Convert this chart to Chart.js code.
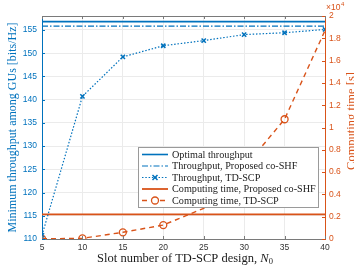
<!DOCTYPE html>
<html>
<head>
<meta charset="utf-8">
<script src="https://cdn.jsdelivr.net/npm/chart.js@4.4.1/dist/chart.umd.min.js"></script>
<style>
  html, body { margin: 0; padding: 0; background: #fff; }
  #wrap { width: 354px; height: 265px; }
</style>
</head>
<body>
<div id="wrap"><canvas id="basechart" width="354" height="265"></canvas></div>
<script>
// Slot number N0 (x axis)
const slots = [5, 10, 15, 20, 25, 30, 35, 40];
const xRange = [5, 40];

// Minimum throughput among GUs [bits/Hz] (left axis)
const optimalThroughput = [156.8, 156.8];
const coShfThroughput = [155.8, 155.8];
const tdScpThroughput = [110.8, 140.7, 149.2, 151.6, 152.7, 154.0, 154.4, 155.1];

// Computing time [s] (right axis)
const coShfTime = [2200, 2200];
const tdScpTime = [20, 60, 600, 1250, 2750, 6400, 10740, 18700];

// Axis ranges / tick steps
const leftRange = [110, 158];
const leftStep = 5;
const rightRange = [0, 20000];
const rightStep = 2000;
const xStep = 5;

const colors = {
    blue: '#0072BD',
    orange: '#D95319',
    grid: '#ebebeb',
    frame: '#7a7a7a'
};

const toPoints = (xs, ys) => xs.map((x, i) => ({ x: x, y: ys[i] }));

// Draws the top frame, inward tick marks, axis titles that need special
// styling, the x10^4 label and the legend box
const extrasPlugin = {
    id: 'extras',
    afterDraw(chart) {
        const ctx = chart.ctx;
        const area = chart.chartArea;
        const sx = chart.scales.x, sy = chart.scales.y, sy2 = chart.scales.y2;
        ctx.save();

        // top frame
        ctx.strokeStyle = colors.frame;
        ctx.lineWidth = 1;
        ctx.beginPath();
        ctx.moveTo(area.left, area.top + 0.5);
        ctx.lineTo(area.right, area.top + 0.5);
        ctx.stroke();

        // inward ticks
        sx.ticks.forEach(t => {
            const px = Math.round(sx.getPixelForValue(t.value)) + 0.5;
            ctx.beginPath();
            ctx.moveTo(px, area.bottom); ctx.lineTo(px, area.bottom - 3);
            ctx.moveTo(px, area.top); ctx.lineTo(px, area.top + 3);
            ctx.stroke();
        });
        ctx.strokeStyle = colors.blue;
        sy.ticks.forEach(t => {
            const py = Math.round(sy.getPixelForValue(t.value)) + 0.5;
            ctx.beginPath();
            ctx.moveTo(area.left, py); ctx.lineTo(area.left + 3, py);
            ctx.stroke();
        });
        ctx.strokeStyle = colors.orange;
        sy2.ticks.forEach(t => {
            const py = Math.round(sy2.getPixelForValue(t.value)) + 0.5;
            ctx.beginPath();
            ctx.moveTo(area.right, py); ctx.lineTo(area.right - 3, py);
            ctx.stroke();
        });

        // x10^4 exponent label
        ctx.fillStyle = colors.orange;
        ctx.textBaseline = 'alphabetic';
        ctx.textAlign = 'left';
        ctx.font = '8.5px "Liberation Sans"';
        ctx.fillText('\u00d710', area.right + 1, 10);
        const w = ctx.measureText('\u00d710').width;
        ctx.font = '6px "Liberation Sans"';
        ctx.fillText('4', area.right + 1 + w + 0.5, 6);

        // right axis title, reading bottom to top, partly cut by the edge
        ctx.save();
        ctx.translate(351.5, 121);
        ctx.rotate(-Math.PI / 2);
        ctx.textAlign = 'center';
        ctx.textBaseline = 'middle';
        ctx.font = '12.5px "Liberation Serif"';
        ctx.fillStyle = colors.orange;
        ctx.fillText('Computing time [s]', 0, 0);
        ctx.restore();

        // x axis title with italic N and subscript 0
        const xMain = 'Slot number of TD-SCP design, ';
        ctx.fillStyle = '#1a1a1a';
        ctx.textBaseline = 'alphabetic';
        ctx.font = '12.5px "Liberation Serif"';
        const wMain = ctx.measureText(xMain).width;
        ctx.font = 'italic 12.5px "Liberation Serif"';
        const wN = ctx.measureText('N').width;
        ctx.font = '8.5px "Liberation Serif"';
        const wSub = ctx.measureText('0').width;
        let tx = 185 - (wMain + wN + wSub) / 2;
        ctx.font = '12.5px "Liberation Serif"';
        ctx.fillText(xMain, tx, 262);
        tx += wMain;
        ctx.font = 'italic 12.5px "Liberation Serif"';
        ctx.fillText('N', tx, 262);
        tx += wN;
        ctx.font = '8.5px "Liberation Serif"';
        ctx.fillText('0', tx, 264);

        // legend
        const boxW = 180, boxH = 60;
        const bx = area.right - 7 - boxW;
        const by = area.bottom - 32 - boxH;
        ctx.fillStyle = '#ffffff';
        ctx.fillRect(bx, by, boxW, boxH);
        ctx.strokeStyle = '#9a9a9a';
        ctx.lineWidth = 1;
        ctx.strokeRect(Math.round(bx) + 0.5, Math.round(by) + 0.5, boxW, boxH);

        ctx.font = '10.2px "Liberation Serif"';
        ctx.textBaseline = 'middle';
        chart.data.datasets.forEach((ds, i) => {
            const cy = by + 7.5 + i * 11.5;
            const x0 = bx + 4, x1 = bx + 30;
            ctx.strokeStyle = ds.borderColor;
            ctx.lineWidth = ds.borderWidth;
            ctx.setLineDash(ds.borderDash || []);
            ctx.beginPath();
            ctx.moveTo(x0, cy); ctx.lineTo(x1, cy);
            ctx.stroke();
            ctx.setLineDash([]);
            const mx = (x0 + x1) / 2;
            if (ds.pointStyle === 'crossRot') {
                ctx.lineWidth = 1.5;
                ctx.beginPath();
                ctx.moveTo(mx - 2.5, cy - 2.5); ctx.lineTo(mx + 2.5, cy + 2.5);
                ctx.moveTo(mx - 2.5, cy + 2.5); ctx.lineTo(mx + 2.5, cy - 2.5);
                ctx.stroke();
            } else if (ds.pointStyle === 'circle') {
                ctx.lineWidth = 1.3;
                ctx.fillStyle = '#ffffff';
                ctx.beginPath();
                ctx.arc(mx, cy, 3.5, 0, Math.PI * 2);
                ctx.fill();
                ctx.stroke();
            }
            ctx.fillStyle = '#1a1a1a';
            ctx.fillText(ds.label, bx + 34, cy + 0.5);
        });
        ctx.restore();
    }
};

const serverChart = new Chart(document.getElementById('basechart').getContext('2d'), {
    type: 'line',
    data: {
        datasets: [
            {
                label: 'Optimal throughput',
                data: toPoints(xRange, optimalThroughput),
                yAxisID: 'y',
                borderColor: colors.blue,
                borderWidth: 1.6,
                pointRadius: 0
            },
            {
                label: 'Throughput, Proposed co-SHF',
                data: toPoints(xRange, coShfThroughput),
                yAxisID: 'y',
                borderColor: colors.blue,
                borderWidth: 1.2,
                borderDash: [6, 2, 1.5, 2],
                pointRadius: 0
            },
            {
                label: 'Throughput, TD-SCP',
                data: toPoints(slots, tdScpThroughput),
                yAxisID: 'y',
                borderColor: colors.blue,
                borderWidth: 1.2,
                borderDash: [1.5, 1.8],
                pointStyle: 'crossRot',
                pointRadius: 3,
                pointBorderWidth: 1.5,
                pointBorderColor: colors.blue
            },
            {
                label: 'Computing time, Proposed co-SHF',
                data: toPoints(xRange, coShfTime),
                yAxisID: 'y2',
                borderColor: colors.orange,
                borderWidth: 1.8,
                pointRadius: 0
            },
            {
                label: 'Computing time, TD-SCP',
                data: toPoints(slots, tdScpTime),
                yAxisID: 'y2',
                borderColor: colors.orange,
                borderWidth: 1.4,
                borderDash: [5, 4],
                pointStyle: 'circle',
                pointRadius: [3.5, 3.5, 3.5, 3.5, 0, 3.5, 3.5, 0],
                pointBorderWidth: 1.3,
                pointBackgroundColor: 'rgba(255,255,255,0)',
                pointBorderColor: colors.orange
            }
        ]
    },
    options: {
        responsive: false,
        devicePixelRatio: 1,
        animation: false,
        layout: { padding: { top: 16, left: 0, right: 0, bottom: 0 } },
        plugins: {
            legend: { display: false },
            tooltip: { enabled: false },
            title: { display: false }
        },
        scales: {
            x: {
                type: 'linear',
                min: xRange[0],
                max: xRange[1],
                afterFit: s => { s.height = 26; },
                ticks: {
                    stepSize: xStep,
                    padding: 4,
                    color: '#333333',
                    font: { family: 'Liberation Sans', size: 8.5 }
                },
                grid: { color: colors.grid, drawTicks: false },
                border: { color: colors.frame, width: 1 },
                title: { display: false }
            },
            y: {
                type: 'linear',
                position: 'left',
                min: leftRange[0],
                max: leftRange[1],
                afterFit: s => { s.width = 42; },
                ticks: {
                    stepSize: leftStep,
                    includeBounds: false,
                    padding: 5,
                    color: colors.blue,
                    font: { family: 'Liberation Sans', size: 8.5 }
                },
                grid: { color: colors.grid, drawTicks: false },
                border: { color: colors.blue, width: 1 },
                title: {
                    display: true,
                    text: 'Minimum throughput among GUs [bits/Hz]',
                    color: colors.blue,
                    padding: { top: 6, bottom: 0 },
                    font: { family: 'Liberation Serif', size: 12 }
                }
            },
            y2: {
                type: 'linear',
                position: 'right',
                min: rightRange[0],
                max: rightRange[1],
                afterFit: s => { s.width = 29; },
                ticks: {
                    stepSize: rightStep,
                    padding: 4,
                    color: colors.orange,
                    font: { family: 'Liberation Sans', size: 8.5 },
                    callback: v => String(+(v / 1e4).toFixed(1))
                },
                grid: { display: false, drawTicks: false },
                border: { color: colors.orange, width: 1 },
                title: { display: false }
            }
        }
    },
    plugins: [extrasPlugin]
});
</script>
</body>
</html>
